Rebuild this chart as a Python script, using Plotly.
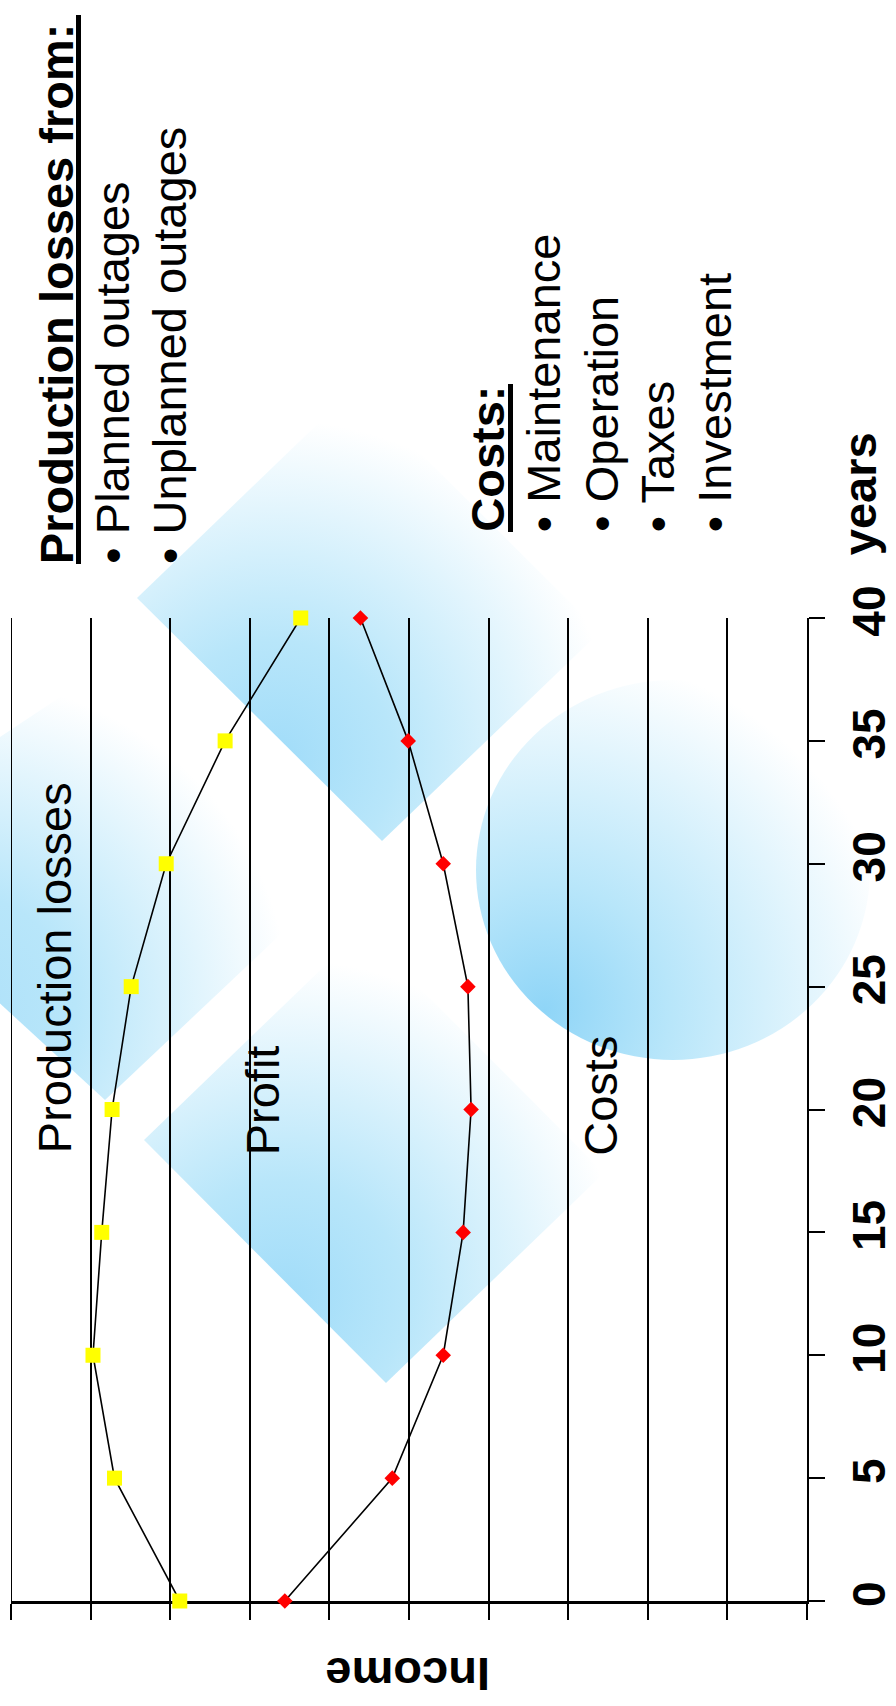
import base64
import plotly.graph_objects as go

# ---- data -------------------------------------------------------------
years = [0, 5, 10, 15, 20, 25, 30, 35, 40]
# upper curve: income remaining after production losses (yellow squares)
income_after_losses = [7.88, 8.70, 8.97, 8.86, 8.73, 8.49, 8.05, 7.31, 6.36]
# lower curve: cost level (red diamonds)
cost_level = [6.56, 5.21, 4.57, 4.32, 4.22, 4.26, 4.57, 5.01, 5.61]
year_ticks = [0, 5, 10, 15, 20, 25, 30, 35, 40]
income_range = [10, 0]          # income grows to the left

# ---- page geometry ------------------------------------------------------
W, H = 896, 1706
M_L, M_R, M_T, M_B = 11, 89, 618, 105
PW = W - M_L - M_R
PH = H - M_T - M_B

FONT = "Liberation Sans, Arial, Helvetica, sans-serif"
FS = 47
ASC, DESC = 0.905, 0.212


def px(x):
    return (x - M_L) / PW


def py(y):
    return (H - M_B - y) / PH


def side_text(text, baseline_x, start_y, size=FS):
    """Text reading bottom-to-top, placed by its baseline and start point."""
    box = (ASC + DESC) * size
    cx = baseline_x - ASC * size + box / 2
    return dict(text=text, xref="paper", yref="paper", x=px(cx), y=py(start_y),
                xanchor="center", yanchor="bottom", textangle=-90, showarrow=False,
                font=dict(family=FONT, size=size, color="black"),
                borderpad=0, borderwidth=0)


def underline(x, y0, y1, width=5):
    return dict(type="line", xref="paper", yref="paper",
                x0=px(x), x1=px(x), y0=py(y0), y1=py(y1),
                line=dict(color="black", width=width), layer="above")


# ---- soft blue background shapes (SVG with gradients) -------------------
def radial(gid, cx, cy, r, c0):
    return (f'<radialGradient id="{gid}" gradientUnits="userSpaceOnUse" cx="{cx}" cy="{cy}" r="{r}">'
            f'<stop offset="0" stop-color="{c0}"/>'
            f'<stop offset="0.35" stop-color="#b8e6fa"/>'
            f'<stop offset="1" stop-color="#ffffff"/></radialGradient>')


def polygon(pts, gid):
    p = " ".join(f"{x},{y}" for x, y in pts)
    return f'<polygon points="{p}" fill="url(#{gid})"/>'


defs = (radial("gA", 275, 760, 340, "#a0dcf9")
        + radial("gB", 285, 1300, 340, "#a0dcf9")
        + radial("gC", -40, 1010, 330, "#aee1f9")
        + radial("gD", 545, 1010, 360, "#8fd5f7"))
body = (polygon([(-80, 790), (137, 646), (300, 805), (300, 916), (105, 1100), (-80, 930)], "gC")
        + polygon([(137, 598), (355, 388), (600, 632), (382, 841)], "gA")
        + polygon([(144, 1140), (362, 930), (604, 1173), (386, 1383)], "gB")
        + '<ellipse cx="673" cy="870" rx="197" ry="190" fill="url(#gD)"/>')
svg = (f'<svg xmlns="http://www.w3.org/2000/svg" width="{W}" height="{H}" '
       f'viewBox="0 0 {W} {H}"><defs>{defs}</defs>{body}</svg>')
svg_uri = "data:image/svg+xml;base64," + base64.b64encode(svg.encode()).decode()

# ---- figure -------------------------------------------------------------
fig = go.Figure()
fig.add_trace(go.Scatter(
    x=income_after_losses, y=years, mode="lines+markers", cliponaxis=False,
    line=dict(color="black", width=1.6),
    marker=dict(symbol="square", size=15, color="#ffff00", line=dict(width=0)),
    hoverinfo="skip"))
fig.add_trace(go.Scatter(
    x=cost_level, y=years, mode="lines+markers", cliponaxis=False,
    line=dict(color="black", width=1.6),
    marker=dict(symbol="diamond", size=12, color="#ff0000", line=dict(width=0)),
    hoverinfo="skip"))

annotations = [
    side_text("Production losses", 71, 1153),
    side_text("Profit", 278.6, 1155),
    side_text("Costs", 616, 1156),
    side_text("<b>Production losses from:</b>", 73, 564),
    side_text("• Planned outages", 129, 564),
    side_text("• Unplanned outages", 185.7, 564),
    side_text("<b>Costs:</b>", 503, 532),
    side_text("• Maintenance", 560, 532),
    side_text("• Operation", 617, 532),
    side_text("• Taxes", 674, 532),
    side_text("• Investment", 731, 532),
    side_text("<b>years</b>", 876, 555),
    dict(text="<b>Income</b>", xref="paper", yref="paper",
         x=px(407.5), y=py(1658 - DESC * FS), xanchor="center", yanchor="top",
         textangle=180, showarrow=False, borderpad=0, borderwidth=0,
         font=dict(family=FONT, size=FS, color="black")),
]

shapes = [
    underline(78.5, 564, 15),
    underline(510.5, 532, 384),
    # grid line at the far (left) end of the income axis
    dict(type="line", xref="x", yref="paper", x0=income_range[0], x1=income_range[0],
         y0=0, y1=1, line=dict(color="black", width=2), layer="below"),
]

fig.update_layout(
    width=W, height=H,
    margin=dict(l=M_L, r=M_R, t=M_T, b=M_B, pad=0, autoexpand=False),
    paper_bgcolor="white", plot_bgcolor="rgba(0,0,0,0)",
    showlegend=False,
    annotations=annotations,
    shapes=shapes,
    images=[dict(source=svg_uri, xref="paper", yref="paper",
                 x=px(0), y=py(0), sizex=W / PW, sizey=H / PH,
                 xanchor="left", yanchor="top", sizing="stretch", layer="below")],
)
fig.update_xaxes(
    range=income_range, dtick=1, tick0=0, automargin=False, layer="below traces",
    showgrid=True, gridcolor="black", gridwidth=2,
    zeroline=False, showline=True, linecolor="black", linewidth=2.5,
    ticks="outside", ticklen=16, tickwidth=2, tickcolor="black",
    showticklabels=False, fixedrange=True)
fig.update_yaxes(
    range=[0, 40], tickvals=year_ticks, side="right", automargin=False,
    layer="below traces",
    showgrid=False, zeroline=False, showline=True, linecolor="black", linewidth=2,
    ticks="outside", ticklen=16, tickwidth=2, tickcolor="black",
    tickangle=-90, ticklabelstandoff=5,
    tickfont=dict(family=FONT, size=46, color="black", weight="bold"),
    fixedrange=True)

fig.write_html("out.html")
